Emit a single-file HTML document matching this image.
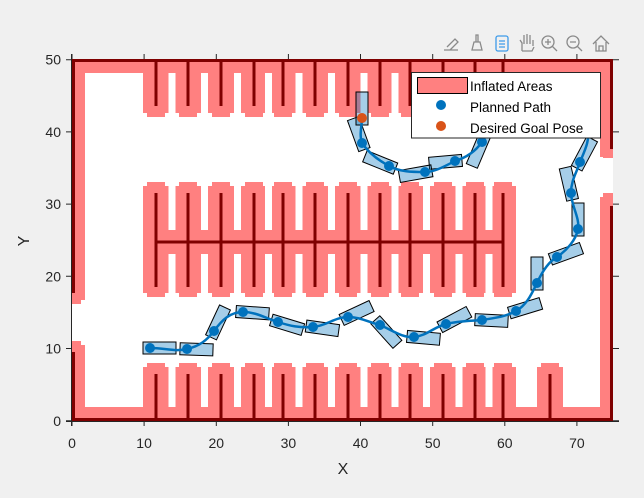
<!DOCTYPE html>
<html><head><meta charset="utf-8">
<style>
html,body{margin:0;padding:0;background:#f0f0f0;}
svg{display:block;font-family:"Liberation Sans",Arial,sans-serif;}
</style></head>
<body>
<svg width="644" height="498" viewBox="0 0 644 498" xmlns="http://www.w3.org/2000/svg" xmlns:xlink="http://www.w3.org/1999/xlink">
<defs>
<g id="pc" fill="#ff8080">
<rect x="-13" y="59" width="26" height="54"/><rect x="-9" y="59" width="18" height="58"/>
<rect x="-13" y="186" width="26" height="107"/><rect x="-9" y="182" width="18" height="115"/>
<rect x="-13" y="367" width="26" height="54"/><rect x="-9" y="363" width="18" height="58"/>
</g>
<g id="sc" fill="#ffffff">
<rect x="-3.5" y="73" width="7" height="44"/><rect x="-3.5" y="180" width="7" height="50"/>
<rect x="-3.5" y="254" width="7" height="45"/><rect x="-3.5" y="360" width="7" height="47"/>
</g>
<g id="dc" fill="#7f0000">
<rect x="-1.5" y="59" width="3" height="47"/><rect x="-1.5" y="193" width="3" height="94"/>
<rect x="-1.5" y="374" width="3" height="47"/>
</g>
<rect id="vb" x="-7" y="-6" width="33" height="12" fill="#0072BD" fill-opacity="0.35" stroke="#000" stroke-width="1"/>
</defs>
<rect x="0" y="0" width="644" height="498" fill="#f0f0f0"/>
<rect x="72" y="59" width="541" height="362" fill="#ffffff"/>
<g fill="#ff8080">
<rect x="72" y="59" width="541" height="14"/>
<rect x="72" y="59" width="13" height="241"/>
<rect x="72" y="345" width="13" height="76"/>
<rect x="72" y="407" width="541" height="14"/>
<rect x="600" y="59" width="13" height="98"/>
<rect x="600" y="197" width="13" height="224"/>
<rect x="143" y="230" width="373" height="24"/>
<rect x="72" y="293" width="9" height="11"/><rect x="72" y="341" width="9" height="6"/>
<rect x="603" y="150" width="10" height="8"/><rect x="603" y="193" width="10" height="6"/>
<rect x="537" y="367" width="26" height="54"/><rect x="541" y="363" width="18" height="58"/>
</g>
<use xlink:href="#pc" x="156"/><use xlink:href="#pc" x="188"/><use xlink:href="#pc" x="221"/><use xlink:href="#pc" x="254"/>
<use xlink:href="#pc" x="283"/><use xlink:href="#pc" x="315"/><use xlink:href="#pc" x="348"/><use xlink:href="#pc" x="380"/>
<use xlink:href="#pc" x="410"/><use xlink:href="#pc" x="443"/><use xlink:href="#pc" x="475"/><use xlink:href="#pc" x="503"/>
<use xlink:href="#sc" x="172"/><use xlink:href="#sc" x="204.5"/><use xlink:href="#sc" x="237.5"/><use xlink:href="#sc" x="268.5"/>
<use xlink:href="#sc" x="299"/><use xlink:href="#sc" x="331.5"/><use xlink:href="#sc" x="364"/><use xlink:href="#sc" x="395"/>
<use xlink:href="#sc" x="426.5"/><use xlink:href="#sc" x="459"/><use xlink:href="#sc" x="489"/>
<g fill="#7f0000">
<rect x="72" y="59" width="541" height="3"/><rect x="72" y="59" width="3" height="234"/><rect x="72" y="352" width="3" height="69"/>
<rect x="72" y="418" width="541" height="3"/><rect x="610" y="59" width="3" height="90"/><rect x="610" y="206" width="3" height="215"/>
<rect x="156" y="240.5" width="348" height="3"/>
<rect x="548.5" y="374" width="3" height="47"/>
</g>
<use xlink:href="#dc" x="156"/><use xlink:href="#dc" x="188"/><use xlink:href="#dc" x="221"/><use xlink:href="#dc" x="254"/>
<use xlink:href="#dc" x="283"/><use xlink:href="#dc" x="315"/><use xlink:href="#dc" x="348"/><use xlink:href="#dc" x="380"/>
<use xlink:href="#dc" x="410"/><use xlink:href="#dc" x="443"/><use xlink:href="#dc" x="475"/><use xlink:href="#dc" x="503"/>
<!-- vehicle boxes -->
<use xlink:href="#vb" transform="translate(150,348) rotate(0)"/>
<use xlink:href="#vb" transform="translate(187,349) rotate(2)"/>
<use xlink:href="#vb" transform="translate(214,331) rotate(-65)"/>
<use xlink:href="#vb" transform="translate(243,312) rotate(4)"/>
<use xlink:href="#vb" transform="translate(278,322) rotate(17)"/>
<use xlink:href="#vb" transform="translate(313,327) rotate(8)"/>
<use xlink:href="#vb" transform="translate(348,317) rotate(-25)"/>
<use xlink:href="#vb" transform="translate(380,325) rotate(48)"/>
<use xlink:href="#vb" transform="translate(414,337) rotate(5)"/>
<use xlink:href="#vb" transform="translate(446,324) rotate(-28)"/>
<use xlink:href="#vb" transform="translate(482,320) rotate(3)"/>
<use xlink:href="#vb" transform="translate(516,311) rotate(-17)"/>
<use xlink:href="#vb" transform="translate(537,283) rotate(-90)"/>
<use xlink:href="#vb" transform="translate(557,257) rotate(-20)"/>
<use xlink:href="#vb" transform="translate(578,229) rotate(-90)"/>
<use xlink:href="#vb" transform="translate(571,193) rotate(-103)"/>
<use xlink:href="#vb" transform="translate(580,162) rotate(-62)"/>
<use xlink:href="#vb" transform="translate(482,142) rotate(113)"/>
<use xlink:href="#vb" transform="translate(455,161) rotate(175)"/>
<use xlink:href="#vb" transform="translate(425,172) rotate(170)"/>
<use xlink:href="#vb" transform="translate(389,166) rotate(-158)"/>
<use xlink:href="#vb" transform="translate(362,143) rotate(-110)"/>
<use xlink:href="#vb" transform="translate(362,118) rotate(-90)"/>
<path d="M150,348 C165,348 175,352 187,349 C200,346 207,340 214,331 C222,320 230,312 243,312 C256,312 265,318 278,322 C290,326 300,328 313,327 C326,326 335,317 348,317 C360,317 368,322 380,325 C392,330 402,338 414,337 C426,336 434,327 446,324 C458,321 470,321 482,320 C494,318 505,317 516,311 C527,305 532,293 537,283 C542,272 548,262 557,257 C567,250 576,240 578,229 C580,218 571,205 571,193 C571,180 577,172 580,162 C585,150 590,140 588,128 C585,112 580,104 575,100 C565,92 555,92 545,92 C530,93 520,96 515,100 C505,106 498,110 495,115 C488,125 486,134 482,142 C475,152 465,158 455,161 C445,166 435,172 425,172 C412,172 400,172 389,166 C378,160 368,152 362,143 C359,135 362,125 362,118" fill="none" stroke="#0072BD" stroke-width="2.5"/>
<g fill="#0072BD">
<circle cx="150" cy="348" r="5"/><circle cx="187" cy="349" r="5"/><circle cx="214" cy="331" r="5"/><circle cx="243" cy="312" r="5"/>
<circle cx="278" cy="322" r="5"/><circle cx="313" cy="327" r="5"/><circle cx="348" cy="317" r="5"/><circle cx="380" cy="325" r="5"/>
<circle cx="414" cy="337" r="5"/><circle cx="446" cy="324" r="5"/><circle cx="482" cy="320" r="5"/><circle cx="516" cy="311" r="5"/>
<circle cx="537" cy="283" r="5"/><circle cx="557" cy="257" r="5"/><circle cx="578" cy="229" r="5"/><circle cx="571" cy="193" r="5"/>
<circle cx="580" cy="162" r="5"/><circle cx="482" cy="142" r="5"/><circle cx="455" cy="161" r="5"/><circle cx="425" cy="172" r="5"/>
<circle cx="389" cy="166" r="5"/><circle cx="362" cy="143" r="5"/>
</g>
<circle cx="362" cy="118" r="5" fill="#D95319"/>
<!-- axes ticks -->
<g stroke="#262626" stroke-width="1">
<line x1="66" y1="421.5" x2="619" y2="421.5"/>
<line x1="71.5" y1="54" x2="71.5" y2="426"/>
<path d="M72 421v5M144.1 421v5M216.3 421v5M288.4 421v5M360.5 421v5M432.7 421v5M504.8 421v5M576.9 421v5"/>
<path d="M72 59v-5M144.1 59v-5M216.3 59v-5M288.4 59v-5M360.5 59v-5M432.7 59v-5M504.8 59v-5M576.9 59v-5"/>
<path d="M72 420.7h-6M72 348.5h-6M72 276.3h-6M72 204.1h-6M72 131.9h-6M72 59.7h-6"/>
<path d="M613 420.7h6M613 348.5h6M613 276.3h6M613 204.1h6M613 131.9h6M613 59.7h6"/>
</g>
<g fill="#262626" font-size="14" text-anchor="middle">
<text x="72" y="448">0</text><text x="144.1" y="448">10</text><text x="216.3" y="448">20</text><text x="288.4" y="448">30</text>
<text x="360.5" y="448">40</text><text x="432.7" y="448">50</text><text x="504.8" y="448">60</text><text x="576.9" y="448">70</text>
</g>
<g fill="#262626" font-size="14" text-anchor="end">
<text x="61" y="426">0</text><text x="61" y="353.5">10</text><text x="61" y="281.3">20</text>
<text x="61" y="209.1">30</text><text x="61" y="136.9">40</text><text x="61" y="64.7">50</text>
</g>
<text x="343" y="474" font-size="16" fill="#262626" text-anchor="middle">X</text>
<text transform="translate(29,241) rotate(-90)" font-size="16" fill="#262626" text-anchor="middle">Y</text>
<!-- legend -->
<rect x="411.5" y="72.5" width="189" height="65.5" fill="#fff" stroke="#262626" stroke-width="1"/>
<rect x="417.5" y="77.5" width="50" height="16" fill="#ff8080" stroke="#000" stroke-width="1"/>
<text x="470" y="91" font-size="13.5" fill="#000">Inflated Areas</text>
<circle cx="441" cy="105" r="5" fill="#0072BD"/>
<text x="470" y="112" font-size="13.5" fill="#000">Planned Path</text>
<circle cx="441" cy="126" r="5" fill="#D95319"/>
<text x="470" y="133" font-size="13.5" fill="#000">Desired Goal Pose</text>
<!-- toolbar -->
<g stroke="#8a8a8a" stroke-width="1.3" fill="none">
<path d="M444 50 h14 M447 47 l8 -8 l3 3 l-8 8"/>
<path d="M472 50 h10 l-2 -8 h-6 z M476 42 v-7 h2 v7"/>
<rect x="496" y="36" width="12" height="15" rx="2" stroke="#3d9be9"/>
<path d="M499 41 h6 M499 44 h6 M499 47 h6" stroke="#3d9be9"/>
<path d="M522 51 v-8 l-2 -3 M524 44 v-9 M527 44 v-10 M530 44 v-9 M533 46 v-6 M522 51 h10 l2 -4"/>
<circle cx="548" cy="42" r="6"/><path d="M552 46 l5 5 M545 42 h6 M548 39 v6"/>
<circle cx="573" cy="42" r="6"/><path d="M577 46 l5 5 M570 42 h6"/>
<path d="M593 44 l8 -8 l8 8 M596 42 v9 h10 v-9 M599 51 v-5 h4 v5"/>
</g>
</svg>
</body></html>
